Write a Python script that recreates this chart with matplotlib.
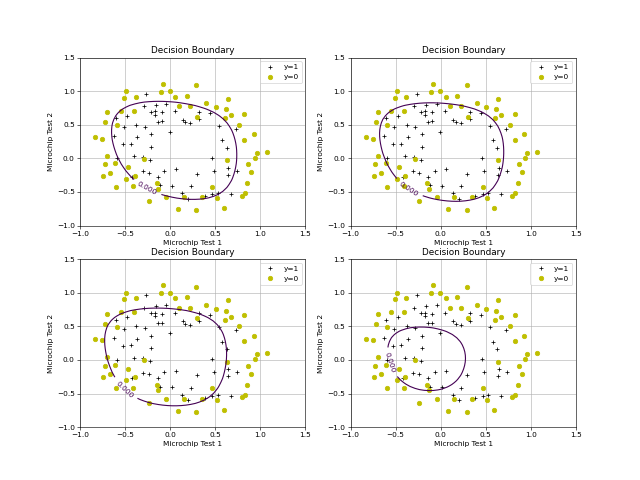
import numpy as np
import matplotlib
matplotlib.use("Agg")
import matplotlib.pyplot as plt

# microchip test results (ex2data2)
test1 = [0.051267, -0.092742, -0.21371, -0.375, -0.51325, -0.52477, -0.39804, -0.30588, 0.016705, 0.13191,
         0.38537, 0.52938, 0.63882, 0.73675, 0.54666, 0.322, 0.16647, -0.046659, -0.17339, -0.47869,
         -0.60541, -0.62846, -0.59389, -0.42108, -0.11578, 0.20104, 0.46601, 0.67339, -0.13882, -0.29435,
         -0.26555, -0.16187, -0.17339, -0.28283, -0.36348, -0.30012, -0.23675, -0.06394, 0.062788, 0.22984,
         0.2932, 0.48329, 0.64459, 0.46025, 0.6273, 0.57546, 0.72523, 0.22408, 0.44297, 0.322,
         0.13767, -0.0063364, -0.092742, -0.20795, -0.20795, -0.43836, -0.21947, -0.13882, 0.18376, 0.22408,
         0.29896, 0.50634, 0.61578, 0.60426, 0.76555, 0.92684, 0.82316, 0.96141, 0.93836, 0.86348,
         0.89804, 0.85196, 0.82892, 0.79435, 0.59274, 0.51786, 0.46601, 0.35081, 0.28744, 0.085829,
         0.14919, -0.13306, -0.40956, -0.39228, -0.74366, -0.69758, -0.75518, -0.69758, -0.4038, -0.38076,
         -0.50749, -0.54781, 0.10311, 0.057028, -0.10426, -0.081221, 0.28744, 0.39689, 0.63882, 0.82316,
         0.67339, 1.0709, -0.046659, -0.23675, -0.15035, -0.49021, -0.46717, -0.28859, -0.61118, -0.66302,
         -0.59965, -0.72638, -0.83007, -0.72062, -0.59389, -0.48445, -0.0063364, 0.63265]
test2 = [0.69956, 0.68494, 0.69225, 0.50219, 0.46564, 0.2098, 0.034357, -0.19225, -0.40424, -0.51389,
         -0.56506, -0.5212, -0.24342, -0.18494, 0.48757, 0.5826, 0.53874, 0.81652, 0.69956, 0.63377,
         0.59722, 0.33406, 0.005117, -0.27266, -0.39693, -0.60161, -0.53582, -0.53582, 0.54605, 0.77997,
         0.96272, 0.8019, 0.64839, 0.47295, 0.31213, 0.027047, -0.21418, -0.18494, -0.16301, -0.41155,
         -0.2288, -0.18494, -0.14108, 0.012427, 0.15863, 0.26827, 0.44371, 0.52412, 0.67032, 0.69225,
         0.57529, 0.39985, 0.55336, 0.35599, 0.17325, 0.21711, -0.016813, -0.27266, 0.93348, 0.77997,
         0.61915, 0.75804, 0.7288, 0.59722, 0.50219, 0.3633, 0.27558, 0.085526, 0.012427, -0.082602,
         -0.20687, -0.36769, -0.5212, -0.55775, -0.7405, -0.5943, -0.41886, -0.57968, -0.76974, -0.75512,
         -0.57968, -0.4481, -0.41155, -0.25804, -0.25804, 0.041667, 0.2902, 0.68494, 0.70687, 0.91886,
         0.90424, 0.70687, 0.77997, 0.91886, 0.99196, 1.1089, 1.087, 0.82383, 0.88962, 0.66301,
         0.64108, 0.10015, -0.57968, -0.63816, -0.36769, -0.3019, -0.13377, -0.0060673, -0.067982, -0.21418,
         -0.41886, -0.082602, 0.31213, 0.53874, 0.49488, 0.99927, 0.99927, -0.030612]
accepted = [1] * 58 + [0] * 60

# regularization strength used for each panel
lambdas = [1, 3, 10, 90]

# where the "0.000" contour label sits in each panel
label_pos = [(-0.22, -0.35), (-0.33, -0.40), (-0.53, -0.47), (-0.58, -0.05)]

x1 = np.array(test1)
x2 = np.array(test2)
y = np.array(accepted)


def map_feature(a, b, degree=6):
    a = np.atleast_1d(a)
    b = np.atleast_1d(b)
    cols = [np.ones_like(a)]
    for i in range(1, degree + 1):
        for j in range(i + 1):
            cols.append(a ** (i - j) * b ** j)
    return np.stack(cols, axis=-1)


def fit(X, y, lam, iters=60):
    # newton steps on the regularized log loss
    theta = np.zeros(X.shape[1])
    reg = lam * np.eye(X.shape[1])
    reg[0, 0] = lam / 2  # bias column + liblinear style intercept
    for _ in range(iters):
        h = 1 / (1 + np.exp(-X @ theta))
        grad = X.T @ (h - y) + reg @ theta
        H = X.T @ (X * (h * (1 - h))[:, None]) + reg
        theta -= np.linalg.solve(H, grad)
    return theta


X = map_feature(x1, x2)
u = np.linspace(-1, 1.5, 50)
v = np.linspace(-1, 1.5, 50)
U, V = np.meshgrid(u, v)
F = map_feature(U.ravel(), V.ravel())

fig, axs = plt.subplots(2, 2, figsize=(12, 9), dpi=640 / 12)
for ax, lam, lp in zip(axs.ravel(), lambdas, label_pos):
    ax.plot(x1[y == 1], x2[y == 1], 'k+', label='y=1')
    ax.plot(x1[y == 0], x2[y == 0], 'yo', label='y=0')
    th = fit(X, y, lam)
    Z = (F @ th).reshape(U.shape)
    cs = ax.contour(U, V, Z, levels=[0])
    ax.clabel(cs, fmt='%1.3f', manual=[lp])
    ax.set_xlim(-1, 1.5)
    ax.set_ylim(-1, 1.5)
    ax.grid(True)
    ax.set_title('Decision Boundary')
    ax.set_xlabel('Microchip Test 1')
    ax.set_ylabel('Microchip Test 2')
    ax.legend(loc='upper right')
fig.savefig('out.png')
